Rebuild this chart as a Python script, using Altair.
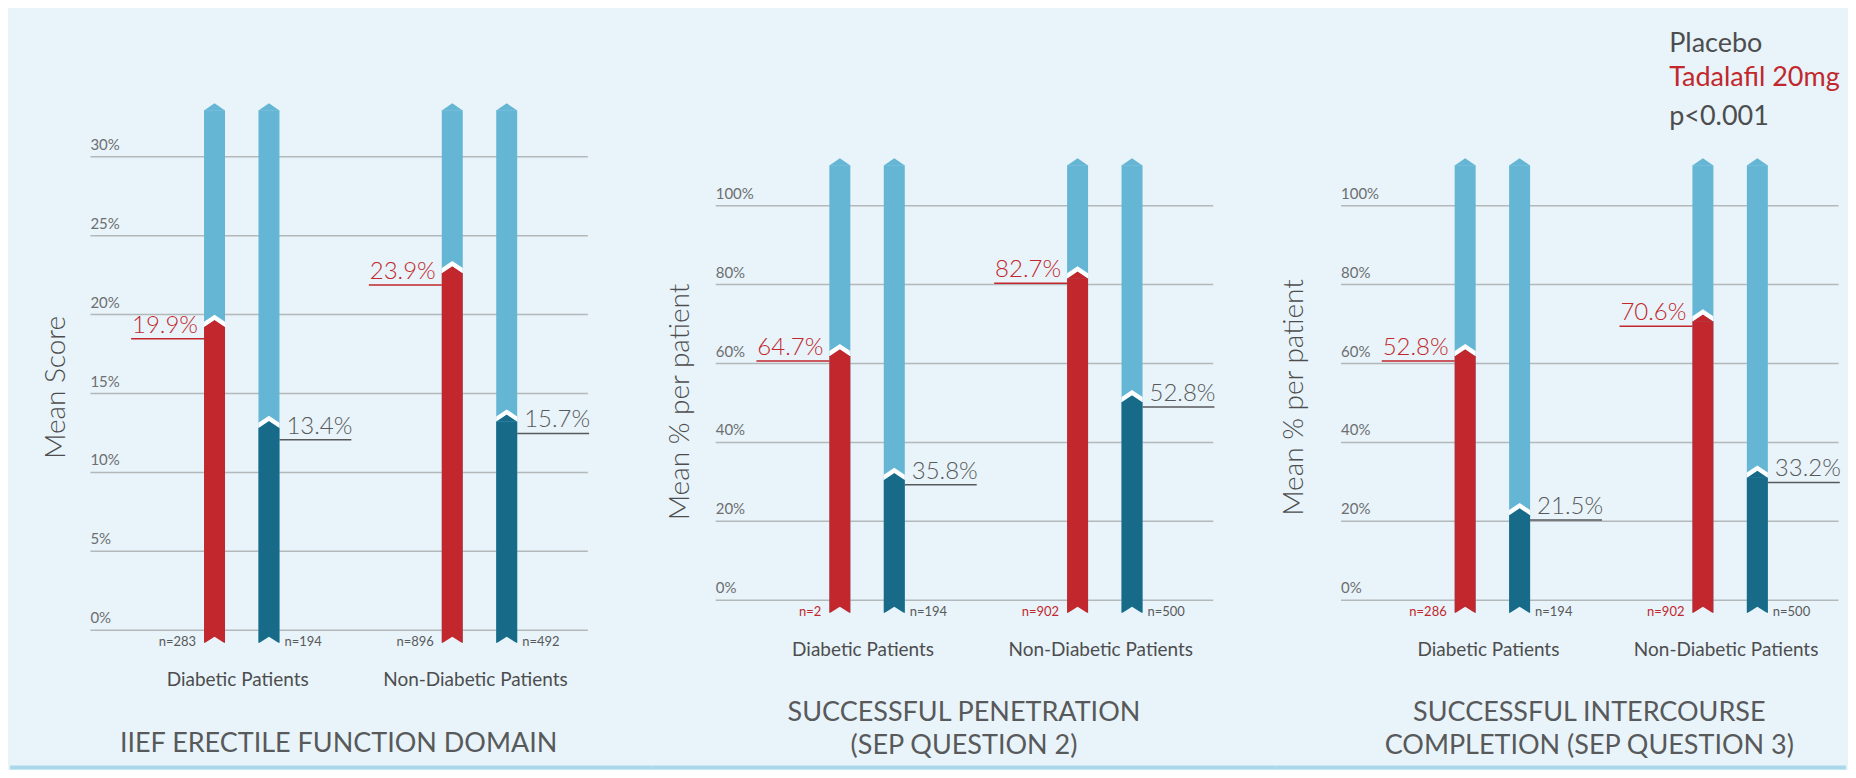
import altair as alt
import pandas as pd

# ---------------- data ----------------
groups = ["Diabetic Patients", "Non-Diabetic Patients"]
series = ["Tadalafil 20mg", "Placebo"]

# IIEF erectile function domain (bar heights as drawn, printed labels, sample sizes)
iief_tadalafil = [19.2, 22.6]
iief_placebo = [12.8, 13.2]
iief_tad_labels = ["19.9%", "23.9%"]
iief_pla_labels = ["13.4%", "15.7%"]
iief_tad_n = ["n=283", "n=896"]
iief_pla_n = ["n=194", "n=492"]

# Successful penetration (SEP Q2)
pen_tadalafil = [61.8, 81.5]
pen_placebo = [30.4, 50.1]
pen_tad_labels = ["64.7%", "82.7%"]
pen_pla_labels = ["35.8%", "52.8%"]
pen_tad_n = ["n=2", "n=902"]
pen_pla_n = ["n=194", "n=500"]

# Successful intercourse completion (SEP Q3)
int_tadalafil = [61.8, 70.6]
int_placebo = [21.5, 31.0]
int_tad_labels = ["52.8%", "70.6%"]
int_pla_labels = ["21.5%", "33.2%"]
int_tad_n = ["n=286", "n=902"]
int_pla_n = ["n=194", "n=500"]

titles = [["IIEF ERECTILE FUNCTION DOMAIN"],
          ["SUCCESSFUL PENETRATION", "(SEP QUESTION 2)"],
          ["SUCCESSFUL INTERCOURSE", "COMPLETION (SEP QUESTION 3)"]]
y_titles = ["Mean Score", "Mean % per patient", "Mean % per patient"]
iief_ticks = [0, 5, 10, 15, 20, 25, 30]
pct_ticks = [0, 20, 40, 60, 80, 100]
legend_lines = ["Placebo", "Tadalafil 20mg", "p<0.001"]

# ---------------- style ----------------
FONT = "Lato"
LIGHTW = 300
BG = "#E8F4F9"
RED = "#C1272D"
TEAL = "#186B88"
LIGHT = "#64B6D4"
GRID = "#B3B8BB"
GRAY = "#58595B"
DARKGRAY = "#4D4D4F"
TICKGRAY = "#6D6E71"
STRIP = "#A9D7EC"

W = 498
SPACING = 128
BAR = 21
SIZE = BAR * BAR          # custom symbol [-1,1] -> BAR px
U = BAR / 2.0             # one symbol unit in px

# group band scale: step 238 px, band 130 px, first group centre at 152 px
STEP, BAND, C1 = 238.0, 130.0, 152.0
PI = 1 - BAND / STEP
PO = (W / STEP - 2 + PI) / 2
AL = (C1 - BAND / 2) / (W - STEP * (2 - PI))
# sub band: step 54.5 px, bar 21 px
SUB_PI = 1 - BAR / 54.5
SUB_PO = (BAND / 54.5 - 2 + SUB_PI) / 2

TIP = "M-1,0.02L0,-0.667L1,0.02Z"
NOTCH = "M-1.05,0.1L0,-0.57L1.05,0.1Z"
WHITE_BAND = "M-1,0.02L0,-0.647L1,0.02L1,-0.476L0,-1.143L-1,-0.476Z"


def panel(idx, tad, pla, tad_lbl, pla_lbl, tad_n, pla_n, ticks, cfg):
    rows = []
    for i, g in enumerate(groups):
        rows.append(dict(group=g, series=series[0], value=tad[i], label=tad_lbl[i], n=tad_n[i]))
        rows.append(dict(group=g, series=series[1], value=pla[i], label=pla_lbl[i], n=pla_n[i]))
    df = pd.DataFrame(rows)
    H = cfg["height"]
    bot = H + 13

    x = alt.X("group:N",
              scale=alt.Scale(domain=groups, paddingInner=PI, paddingOuter=PO, align=AL),
              axis=alt.Axis(title=None, grid=False, domain=False, ticks=False, tickSize=0,
                            labelAngle=0, labelPadding=56, labelBaseline="alphabetic",
                            labelOffset=-4, labelFont=FONT, labelFontSize=19,
                            labelFontWeight=400, labelLimit=0, labelColor=DARKGRAY))
    xo = alt.XOffset("series:N",
                     scale=alt.Scale(domain=series, paddingInner=SUB_PI, paddingOuter=SUB_PO))
    y = alt.Y("value:Q", stack=None,
              scale=alt.Scale(domain=[0, cfg["ymax"]], nice=False, zero=True),
              axis=alt.Axis(values=ticks, title=y_titles[idx], grid=True, gridColor=GRID,
                            gridWidth=1.5, domain=False, ticks=False, tickSize=0,
                            labelAlign="left", labelPadding=0, labelBaseline="alphabetic",
                            labelOffset=-7, labelExpr="datum.value + '%'",
                            labelFont=FONT, labelFontSize=15, labelColor=TICKGRAY,
                            labelFlush=False, labelOverlap=False,
                            titleX=cfg["tx"], titleY=cfg["ty"], titleAngle=270,
                            titleAlign="center", titleBaseline="alphabetic",
                            titleFont=FONT, titleFontSize=28, titleFontWeight=LIGHTW,
                            titleColor=DARKGRAY))
    color = alt.Color("series:N", scale=alt.Scale(domain=series, range=[RED, TEAL]), legend=None)

    base = alt.Chart(df)
    tad_f = alt.datum.series == series[0]
    pla_f = alt.datum.series == series[1]

    layers = []
    # light full-height bar with arrow head and notched tail
    layers.append(base.mark_bar(color=LIGHT).encode(
        x=x, xOffset=xo, y=alt.value(cfg["top"]), y2=alt.value(bot)))
    layers.append(base.mark_point(shape=TIP, size=SIZE, filled=True, color=LIGHT,
                                  strokeWidth=0, opacity=1).encode(
        x=x, xOffset=xo, y=alt.value(cfg["top"])))
    # dark value bar
    layers.append(base.mark_bar().encode(x=x, xOffset=xo, y=y, y2=alt.value(bot), color=color))
    layers.append(base.mark_point(shape=TIP, size=SIZE, filled=True, strokeWidth=0,
                                  opacity=1).encode(x=x, xOffset=xo, y=y, color=color))
    layers.append(base.mark_point(shape=WHITE_BAND, size=SIZE, filled=True, color="white",
                                  strokeWidth=0, opacity=1).encode(x=x, xOffset=xo, y=y))
    layers.append(base.mark_point(shape=NOTCH, size=SIZE, filled=True, color=BG,
                                  strokeWidth=0, opacity=1).encode(
        x=x, xOffset=xo, y=alt.value(bot)))
    # underlines
    u = cfg["ul"] / U
    ul_red = "M%.3f,%.3fL-1,%.3f" % (-(U + 73) / U, u, u)
    ul_gray = "M1,%.3fL%.3f,%.3f" % (u, (U + 72) / U, u)
    layers.append(base.transform_filter(tad_f).mark_point(
        shape=ul_red, size=SIZE, filled=False, color=RED, strokeWidth=1.5, opacity=1).encode(
        x=x, xOffset=xo, y=y))
    layers.append(base.transform_filter(pla_f).mark_point(
        shape=ul_gray, size=SIZE, filled=False, color=GRAY, strokeWidth=1.5, opacity=1).encode(
        x=x, xOffset=xo, y=y))
    # value labels
    layers.append(base.transform_filter(tad_f).mark_text(
        align="right", baseline="alphabetic", dx=-16.5, dy=cfg["dy"], font=FONT,
        fontSize=24, fontWeight=LIGHTW, color=RED).encode(
        x=x, xOffset=xo, y=y, text="label:N"))
    layers.append(base.transform_filter(pla_f).mark_text(
        align="left", baseline="alphabetic", dx=17.5, dy=cfg["dy"], font=FONT,
        fontSize=24, fontWeight=LIGHTW, color=GRAY).encode(
        x=x, xOffset=xo, y=y, text="label:N"))
    # sample sizes
    layers.append(base.transform_filter(tad_f).mark_text(
        align="right", baseline="alphabetic", dx=-18.5, font=FONT, fontSize=13,
        color=cfg["ncolor"]).encode(x=x, xOffset=xo, y=alt.value(H + 16), text="n:N"))
    layers.append(base.transform_filter(pla_f).mark_text(
        align="left", baseline="alphabetic", dx=15.5, font=FONT, fontSize=13,
        color=GRAY).encode(x=x, xOffset=xo, y=alt.value(H + 16), text="n:N"))
    # panel title
    tdf = pd.DataFrame({"t": ["\n".join(titles[idx])]})
    layers.append(alt.Chart(tdf).mark_text(
        lineBreak="\n", lineHeight=33, align="center", baseline="alphabetic", font=FONT,
        fontSize=27, fontWeight=400, color=GRAY).encode(
        x=alt.value(W / 2), y=alt.value(cfg["title_y"]), text="t:N"))
    # bottom strip
    sdf = pd.DataFrame({"k": [0]})
    layers.append(alt.Chart(sdf).mark_rule(color=STRIP, strokeWidth=4).encode(
        x=alt.value(cfg["sx0"]), x2=alt.value(cfg["sx1"]), y=alt.value(748)))
    # legend text
    if cfg.get("legend"):
        lcolors = [DARKGRAY, RED, DARKGRAY]
        lys = [32, 66, 105]
        for t, c, yy in zip(legend_lines, lcolors, lys):
            layers.append(alt.Chart(pd.DataFrame({"t": [t]})).mark_text(
                align="left", baseline="alphabetic", font=FONT, fontSize=27,
                fontWeight=400, color=c).encode(
                x=alt.value(329), y=alt.value(yy), text="t:N"))
    return alt.layer(*layers).properties(width=W, height=H)


p1 = panel(0, iief_tadalafil, iief_placebo, iief_tad_labels, iief_pla_labels, iief_tad_n,
           iief_pla_n, iief_ticks,
           dict(height=610, ymax=610 / 15.8, top=90, tx=-25.5, ty=367, dy=6, ul=12,
                ncolor=GRAY, title_y=732, sx0=-80, sx1=W + 64))
p2 = panel(1, pen_tadalafil, pen_placebo, pen_tad_labels, pen_pla_labels, pen_tad_n,
           pen_pla_n, pct_ticks,
           dict(height=580, ymax=580 / 3.95, top=145, tx=-27, ty=381.5, dy=-1, ul=5,
                ncolor=RED, title_y=701, sx0=-64, sx1=W + 64))
p3 = panel(2, int_tadalafil, int_placebo, int_tad_labels, int_pla_labels, int_tad_n,
           int_pla_n, pct_ticks,
           dict(height=580, ymax=580 / 3.95, top=145, tx=-38, ty=377, dy=-1, ul=5,
                ncolor=RED, title_y=701, sx0=-64, sx1=W + 8, legend=True))

chart = alt.hconcat(p1, p2, p3, spacing=SPACING, bounds="flush").properties(
    padding={"left": 0, "top": 12, "right": 0, "bottom": 0}
).configure(background=BG, font=FONT).configure_view(stroke=None)

chart.save("out.html", embed_options={"renderer": "svg", "actions": False})
